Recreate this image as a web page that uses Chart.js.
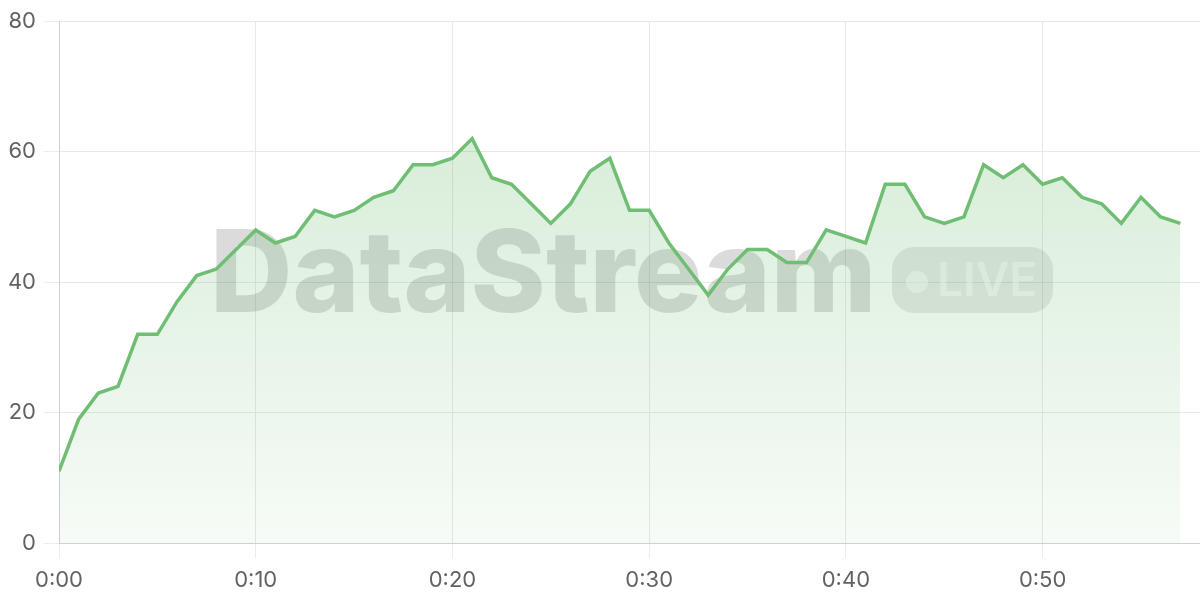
<!DOCTYPE html>
<html>
<head>
<meta charset="utf-8">
<script src="https://cdn.jsdelivr.net/npm/chart.js@4.4.1/dist/chart.umd.min.js"></script>
<style>
    html, body { margin: 0; padding: 0; background: #ffffff; }
    #wrap { width: 1200px; height: 600px; position: relative; }
</style>
</head>
<body>
<div id="wrap"><canvas id="stream-chart"></canvas></div>
<script>
const seconds = [0, 1, 2, 3, 4, 5, 6, 7, 8, 9, 10, 11, 12, 13, 14, 15, 16, 17, 18, 19,
    20, 21, 22, 23, 24, 25, 26, 27, 28, 29, 30, 31, 32, 33, 34, 35, 36, 37, 38, 39,
    40, 41, 42, 43, 44, 45, 46, 47, 48, 49, 50, 51, 52, 53, 54, 55, 56, 57];
const values = [11, 19, 23, 24, 32, 32, 37, 41, 42, 45, 48, 46, 47, 51, 50, 51, 53, 54, 58, 58,
    59, 62, 56, 55, 52, 49, 52, 57, 59, 51, 51, 46, 42, 38, 42, 45, 45, 43, 43, 48,
    47, 46, 55, 55, 50, 49, 50, 58, 56, 58, 55, 56, 53, 52, 49, 53, 50, 49];
const xTickSeconds = [0, 10, 20, 30, 40, 50];
const yTickValues = [0, 20, 40, 60, 80];
const xMax = 58;

const lineColor = '#70bd74';
const tickFont = { family: 'Inter', size: 22 };

function formatClock(sec) {
    const m = Math.floor(sec / 60);
    const s = sec % 60;
    return `${m}:${s < 10 ? '0' : ''}${s}`;
}

function areaGradient(context) {
    const { ctx, chartArea } = context.chart;
    if (!chartArea) return 'rgba(108,187,112,0.15)';
    const g = ctx.createLinearGradient(0, chartArea.top, 0, chartArea.bottom);
    g.addColorStop(0, 'rgba(108,187,112,0.32)');
    g.addColorStop(1, 'rgba(108,187,112,0.06)');
    return g;
}

// grey "DataStream • LIVE" mark sitting behind the line
const watermark = {
    id: 'watermark',
    beforeDatasetsDraw(chart) {
        const { ctx } = chart;
        ctx.save();
        ctx.fillStyle = 'rgba(0,0,0,0.14)';
        ctx.font = '800 114px Inter';
        ctx.textBaseline = 'alphabetic';
        ctx.fillText('DataStream', 210, 312);

        ctx.fillStyle = 'rgba(0,0,0,0.09)';
        ctx.beginPath();
        ctx.roundRect(892, 247, 161, 66, 22);
        ctx.fill();

        ctx.fillStyle = 'rgba(255,255,255,0.55)';
        ctx.beginPath();
        ctx.arc(917, 282, 11, 0, Math.PI * 2);
        ctx.fill();
        ctx.font = '600 46px Inter';
        ctx.fillText('LIVE', 937, 296);
        ctx.restore();
    }
};

const ctx = document.getElementById('stream-chart').getContext('2d');
new Chart(ctx, {
    type: 'line',
    data: {
        datasets: [{
            data: seconds.map((s, i) => ({ x: s, y: values[i] })),
            borderColor: lineColor,
            borderWidth: 3.5,
            backgroundColor: areaGradient,
            fill: 'origin',
            tension: 0,
            pointRadius: 0
        }]
    },
    options: {
        responsive: true,
        maintainAspectRatio: false,
        animation: false,
        layout: { padding: { top: 20, right: 0, left: 0, bottom: 0 } },
        plugins: { legend: { display: false }, tooltip: { enabled: false } },
        scales: {
            x: {
                type: 'linear',
                min: 0,
                max: xMax,
                afterBuildTicks: scale => { scale.ticks = xTickSeconds.map(v => ({ value: v })); },
                afterFit: scale => { scale.height = 57; },
                ticks: { color: '#626262', font: tickFont, padding: 9, maxRotation: 0, callback: v => formatClock(v) },
                grid: { color: '#e8e8e8', lineWidth: 1, tickLength: 15, tickColor: '#ececec' },
                border: { color: '#d0d0d0', width: 1 }
            },
            y: {
                min: 0,
                max: 80,
                afterBuildTicks: scale => { scale.ticks = yTickValues.map(v => ({ value: v })); },
                afterFit: scale => { scale.width = 59; },
                ticks: { color: '#626262', font: tickFont, padding: 8 },
                grid: { color: '#e8e8e8', lineWidth: 1, tickLength: 15, tickColor: '#ececec' },
                border: { color: '#d0d0d0', width: 1 }
            }
        }
    },
    plugins: [watermark]
});
</script>
</body>
</html>
